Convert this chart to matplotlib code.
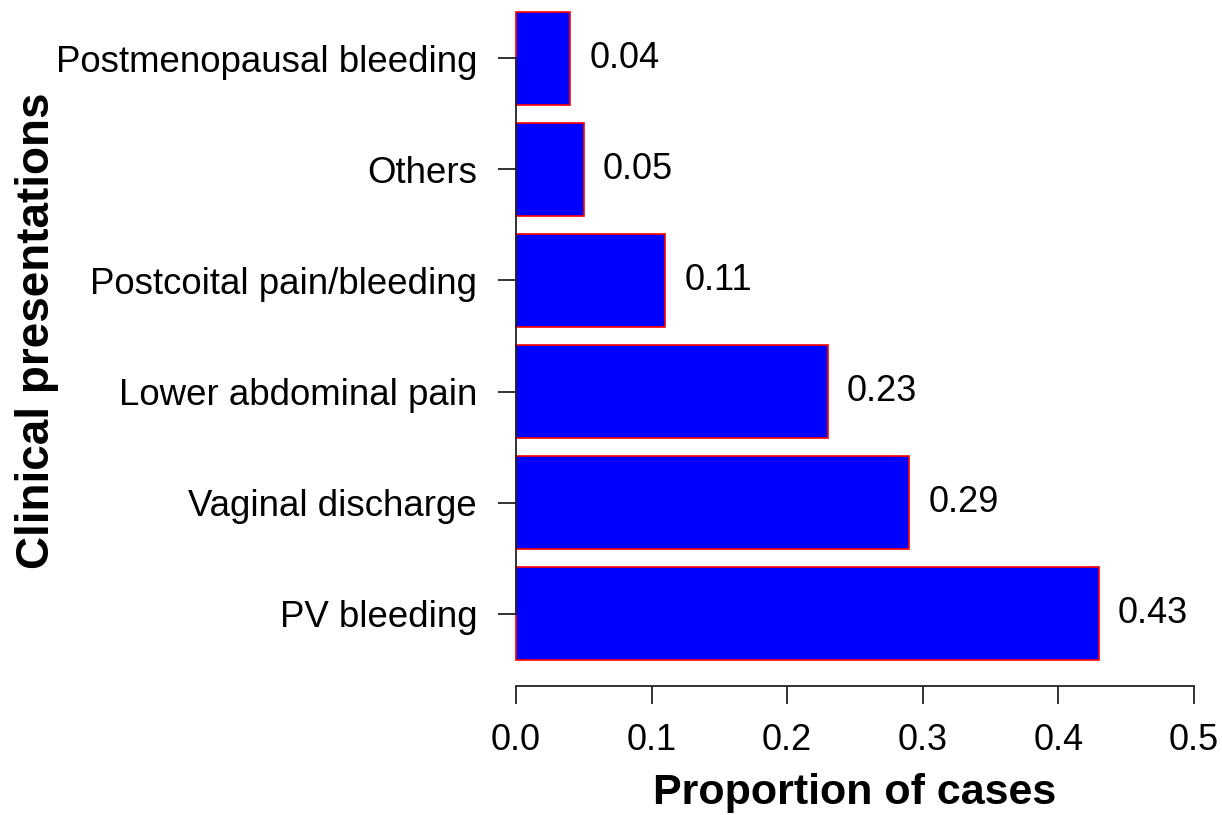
import matplotlib
matplotlib.use("Agg")
import matplotlib.pyplot as plt

categories = ["PV bleeding", "Vaginal discharge", "Lower abdominal pain",
              "Postcoital pain/bleeding", "Others", "Postmenopausal bleeding"]
values = [0.43, 0.29, 0.23, 0.11, 0.05, 0.04]
x_ticks = [0.0, 0.1, 0.2, 0.3, 0.4, 0.5]
x_ticklabels = ["0.0", "0.1", "0.2", "0.3", "0.4", "0.5"]

plt.rcParams['font.family'] = ['Liberation Sans', 'DejaVu Sans']

fig = plt.figure(figsize=(12.22, 8.15), dpi=100)
ax = fig.add_axes([0.4001, 0.1584, 0.5992, 0.8587])

pos = [0.7 + 1.2 * i for i in range(len(values))]
ax.barh(pos, values, height=1.0, color="#0000FF", edgecolor="#FF0000", linewidth=1.2)

for p, v in zip(pos, values):
    ax.text(v + 0.014, p, f"{v:.2f}", va="center", ha="left", fontsize=26)

ax.set_xlim(-0.02, 0.52)
ax.set_ylim(-0.08, 7.48)

for s in ["top", "right"]:
    ax.spines[s].set_visible(False)
ax.spines["left"].set_position(("data", 0))
ax.spines["left"].set_bounds(pos[0], pos[-1])
ax.spines["bottom"].set_bounds(0, 0.5)
for s in ["left", "bottom"]:
    ax.spines[s].set_linewidth(1.3)
    ax.spines[s].set_color("#222222")

ax.set_yticks(pos)
ax.set_yticklabels(categories)
ax.set_xticks(x_ticks)
ax.set_xticklabels(x_ticklabels)
ax.tick_params(axis="both", length=13, width=1.3, color="#222222", labelsize=26)
ax.tick_params(axis="y", pad=15, labelsize=26.4)
ax.tick_params(axis="x", pad=14)
ax.set_zorder(1)

fig.text(0.030, 0.594, "Clinical presentations", rotation=90, fontsize=33,
         fontweight="bold", ha="center", va="center")
fig.text(0.6995, 0.027, "Proportion of cases", fontsize=31, fontweight="bold",
         ha="center", va="center")

fig.savefig("out.png", dpi=100)
